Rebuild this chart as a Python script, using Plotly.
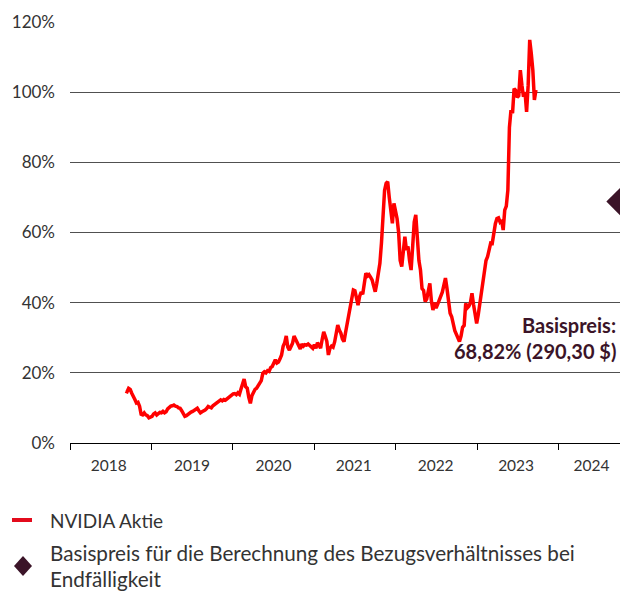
import pandas as pd
import plotly.graph_objects as go

# ---- data (percent of reference level, weekly Fridays from 2018-09-07) ----
start_date = "2018-09-07"
v2018 = [14.8, 14.6, 15.6, 15.3, 14.2, 13.0, 12.4, 11.4, 11.6, 10.5, 8.2, 8.0, 8.6,
         8.0, 7.8, 7.2, 7.5]
v2019 = [7.6, 8.3, 8.6, 8.0, 8.4, 8.7, 8.6, 9.0, 8.6, 8.9, 9.7, 10.2, 10.5,
         10.6, 10.8, 10.5, 10.4, 10.0, 9.9, 9.2, 8.4, 7.6, 7.8, 8.2, 8.6, 8.8,
         9.0, 9.3, 9.6, 9.9, 9.2, 8.6, 8.9, 9.1, 9.4, 9.8, 10.4, 10.2, 10.0,
         10.6, 10.9, 11.2, 11.6, 11.9, 12.3, 12.0, 12.4, 12.2, 12.6, 13.0, 13.4, 13.5]
v2020 = [14.0, 14.1, 13.8, 14.3, 13.9, 15.4, 17.0, 18.2, 16.0, 15.6, 13.0, 11.3, 13.5,
         14.4, 15.3, 15.6, 16.4, 17.1, 17.8, 19.9, 20.3, 20.0, 20.6, 20.4, 21.5, 21.8,
         22.9, 23.7, 22.8, 23.1, 24.0, 25.1, 27.6, 28.6, 30.5, 27.3, 26.5, 27.8, 28.4,
         30.5, 29.5, 28.3, 27.5, 26.8, 28.2, 27.6, 28.0, 27.9, 28.2, 27.7, 27.3, 27.0]
v2021 = [28.0, 27.0, 28.6, 27.6, 27.0, 29.5, 31.7, 30.4, 29.0, 25.1, 27.0, 27.6, 27.3,
         28.8, 31.2, 33.6, 32.2, 31.3, 29.6, 28.9, 31.5, 33.8, 36.4, 38.9, 40.6, 43.6,
         43.4, 41.0, 39.3, 41.8, 43.0, 42.4, 46.0, 48.4, 47.6, 48.0, 47.3, 46.5, 44.8,
         43.1, 45.5, 48.5, 51.2, 57.0, 65.0, 72.0, 74.0, 74.5,
         70.0, 67.0, 62.6, 68.3, 66.5]
v2022 = [64.0, 60.0, 52.0, 50.3, 55.5, 58.8, 55.0, 56.0, 52.0, 49.3, 56.0, 63.0,
         65.0, 57.5, 52.0, 49.3, 44.0, 43.5, 40.3, 41.0, 44.0, 45.5, 40.5, 37.9, 40.0,
         38.5, 39.5, 40.5, 41.5, 43.0, 45.0, 47.0, 44.0, 40.0, 37.0, 36.0, 33.5, 32.0, 31.0,
         30.0, 28.9, 30.5, 33.0, 33.5, 39.8, 38.5, 39.0, 40.0, 42.7, 39.5, 36.0, 34.1]
v2023 = [36.5, 39.8, 42.5, 47.0, 49.5, 52.0, 53.1, 55.0, 57.0, 56.9, 60.5, 62.5, 64.0,
         64.2, 63.0, 63.5, 60.7, 66.4, 67.5, 72.1, 90.0, 94.9, 94.0, 101.0, 100.5, 98.5,
         99.0, 106.3, 102.0, 98.7, 100.0, 94.4, 102.0, 114.9, 111.0, 106.3, 97.8, 100.6]

series_name = "NVIDIA Aktie"
strike_name = "Basispreis für die Berechnung des Bezugsverhältnisses bei<br>Endfälligkeit"
strike_date = "2024-10-03"
strike_value = 68.82
strike_text_1 = "Basispreis:"
strike_text_2 = "68,82% (290,30 $)"
y_ticks = [0, 20, 40, 60, 80, 100, 120]
y_tick_labels = ["0%", "20%", "40%", "60%", "80%", "100%", "120%"]
year_starts = ["2018-01-01", "2019-01-01", "2020-01-01", "2021-01-01",
               "2022-01-01", "2023-01-01", "2024-01-01"]
year_label_pos = ["2018-06-24", "2019-07-02", "2020-07-02", "2021-06-27",
                  "2022-06-29", "2023-06-25", "2024-05-28"]
year_labels = ["2018", "2019", "2020", "2021", "2022", "2023", "2024"]

values = v2018 + v2019 + v2020 + v2021 + v2022 + v2023
dates = pd.date_range(start=start_date, periods=len(values), freq="W-FRI")

RED = "#ff0000"
LEG_RED = "#e30b1c"
PURPLE = "#3b1428"
TXT = "#333333"
FONT = "Lato"

fig = go.Figure()
fig.add_trace(go.Scatter(x=dates, y=values, mode="lines", name=series_name,
                         line=dict(color=RED, width=3.5), showlegend=False))
fig.add_trace(go.Scatter(x=[strike_date], y=[strike_value], mode="markers",
                         name="Basispreis", cliponaxis=False, showlegend=False,
                         marker=dict(symbol="diamond", size=21, color=PURPLE)))

W, H = 620, 591
L, R, T = 70, 0, 22
B = H - 443
pw, ph = W - L - R, H - T - B

def px(x):
    return (x - L) / pw

def py(y):
    return (H - B - y) / ph

fig.update_layout(
    width=W, height=H,
    margin=dict(l=L, r=R, t=T, b=B),
    paper_bgcolor="white", plot_bgcolor="white",
    font=dict(family=FONT, color=TXT, size=16),
    showlegend=False,
    xaxis=dict(type="date", range=["2018-01-01", strike_date],
               tickmode="array", tickvals=year_label_pos, ticktext=year_labels,
               ticks="", showline=True, linecolor="#000000",
               linewidth=1, showgrid=False, zeroline=False,
               ticklabelstandoff=8,
               tickfont=dict(size=15.5, color=TXT),
               minor=dict(tickmode="array", tickvals=year_starts,
                          ticks="outside", ticklen=6, tickcolor="#000000",
                          tickwidth=1, showgrid=False)),
    yaxis=dict(range=[0, 120], tickmode="array", tickvals=y_ticks,
               ticktext=y_tick_labels,
               showgrid=True, gridcolor="#505050", gridwidth=1,
               zeroline=False, showline=False, ticks="",
               ticklabelstandoff=14, tickfont=dict(size=17, color=TXT)),
)

# strike annotation
fig.add_annotation(x=px(618), y=py(325), xref="paper", yref="paper",
                   text="<b>" + strike_text_1 + "</b>", showarrow=False,
                   xanchor="right", yanchor="middle",
                   font=dict(size=20, color=PURPLE, family=FONT))
fig.add_annotation(x=px(618), y=py(351), xref="paper", yref="paper",
                   text="<b>" + strike_text_2 + "</b>", showarrow=False,
                   xanchor="right", yanchor="middle",
                   font=dict(size=20, color=PURPLE, family=FONT))

# manual legend
fig.add_shape(type="line", xref="paper", yref="paper",
              x0=px(12), x1=px(32), y0=py(520), y1=py(520),
              line=dict(color=LEG_RED, width=4))
cx, cy, hw, hh = 23, 566, 9, 10
fig.add_shape(type="path", xref="paper", yref="paper",
              path=(f"M {px(cx)},{py(cy - hh)} L {px(cx + hw)},{py(cy)} "
                    f"L {px(cx)},{py(cy + hh)} L {px(cx - hw)},{py(cy)} Z"),
              fillcolor=PURPLE, line=dict(width=0))
fig.add_annotation(x=px(48), y=py(520), xref="paper", yref="paper",
                   text=series_name, showarrow=False, xanchor="left",
                   yanchor="middle", font=dict(size=19, color=TXT, family=FONT))
leg_lines = strike_name.split("<br>")
fig.add_annotation(x=px(48), y=py(553), xref="paper", yref="paper",
                   text=leg_lines[0], showarrow=False, xanchor="left",
                   yanchor="middle", font=dict(size=20.7, color=TXT, family=FONT))
fig.add_annotation(x=px(48), y=py(579), xref="paper", yref="paper",
                   text=leg_lines[1], showarrow=False, xanchor="left",
                   yanchor="middle", font=dict(size=20.7, color=TXT, family=FONT))

page_css = ("document.documentElement.style.margin='0';"
            "document.documentElement.style.overflow='hidden';"
            "document.body.style.margin='0';"
            "document.body.style.overflow='hidden';")
fig.write_html("out.html", post_script=page_css,
               config={"displayModeBar": False, "staticPlot": True})
